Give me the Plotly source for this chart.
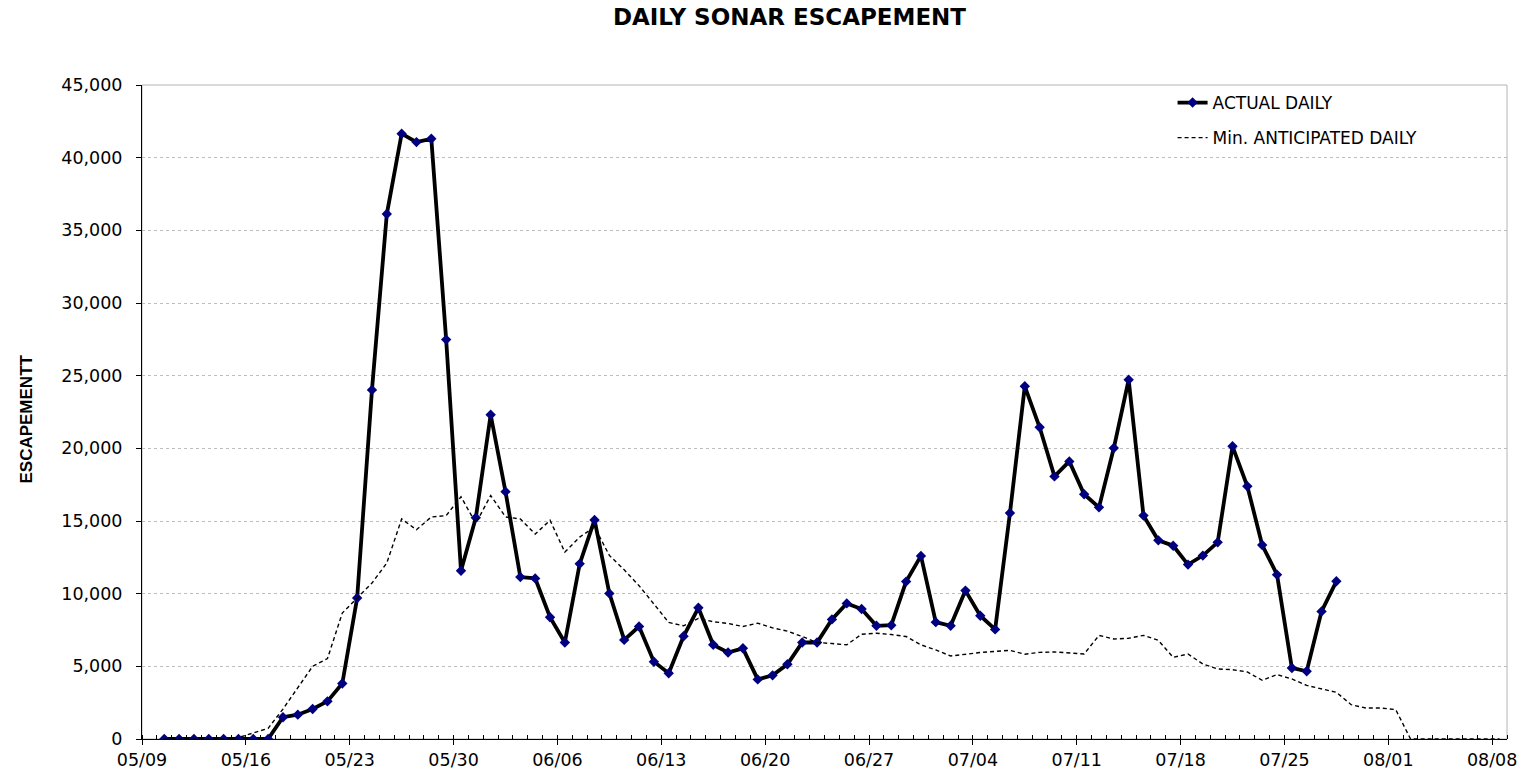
import pandas as pd
import plotly.graph_objects as go

# ---------------- data ----------------
START_DATE = "2009-05-10"          # first day of both series
AXIS_START = "2009-05-09"
AXIS_END = "2009-08-09"

ACTUAL_NAME = "ACTUAL DAILY"
ANTICIPATED_NAME = "Min. ANTICIPATED DAILY"

actual_daily = [
    # May 10 - May 31
    0, 0, 0, 0, 0, 0, 0, 0,
    1500, 1675, 2060, 2590, 3820, 9700, 24020, 36120, 41650, 41070, 41300, 27480, 11580, 15230,
    # June
    22310, 17020, 11140, 11050, 8380, 6640, 12050, 15070, 10020, 6820,
    7740, 5320, 4520, 7070, 9030, 6480, 5950, 6240, 4100, 4380,
    5140, 6640, 6640, 8230, 9330, 8940, 7790, 7830, 10830, 12600,
    # July 1 - July 28
    8040, 7790, 10210, 8480, 7540, 15550, 24270, 21450, 18070, 19100,
    16840, 15940, 20020, 24720, 15370, 13670, 13300, 12000, 12620, 13530,
    20140, 17390, 13350, 11310, 4890, 4660, 8780, 10850,
]

min_anticipated_daily = [
    # May 10 - May 31
    0, 0, 0, 0, 0, 100, 440, 735, 2060, 3530, 5000, 5530, 8670, 9700, 10730, 12110,
    15140, 14400, 15280, 15370, 16670, 14840,
    # June
    16750, 15280, 15140, 14100, 15050, 12860, 13890, 14590, 12630, 11640,
    10550, 9290, 8020, 7790, 8300, 8070, 7950, 7740, 7970, 7650,
    7420, 7050, 6640, 6570, 6480, 7210, 7280, 7190, 7050, 6480,
    # July
    6130, 5710, 5850, 5950, 6030, 6100, 5830, 5960, 5990, 5920,
    5850, 7130, 6880, 6930, 7130, 6790, 5620, 5850, 5160, 4820,
    4770, 4610, 4040, 4430, 4130, 3690, 3460, 3210, 2360, 2130, 2130,
    # Aug 1 - Aug 8
    2020, 0, 0, 0, 0, 0, 0, 0,
]

# ---------------- figure ----------------
# points sit in the middle of each day's slot (between tick marks)
half_day = pd.Timedelta(hours=12)
actual_dates = pd.date_range(START_DATE, periods=len(actual_daily), freq="D") + half_day
anticip_dates = pd.date_range(START_DATE, periods=len(min_anticipated_daily), freq="D") + half_day

fig = go.Figure()

fig.add_trace(go.Scatter(
    x=actual_dates, y=actual_daily, name=ACTUAL_NAME, mode="lines+markers",
    line=dict(color="black", width=3.8),
    marker=dict(symbol="diamond", size=8, color="#000080"),
    legendgroup="a",
))

fig.add_trace(go.Scatter(
    x=anticip_dates, y=min_anticipated_daily, name=ANTICIPATED_NAME, mode="lines",
    line=dict(color="black", width=1.4, dash="4px,3px"),
    legendgroup="b",
))

tick_font = dict(family="DejaVu Sans, Arial, sans-serif", size=17.5, color="black")

fig.update_layout(
    width=1536, height=776,
    paper_bgcolor="white", plot_bgcolor="white",
    margin=dict(l=142, r=29, t=85, b=37),
    title=dict(
        text="DAILY SONAR ESCAPEMENT",
        font=dict(family="DejaVu Sans, Arial, sans-serif", size=23, color="black", weight="bold"),
        x=0.514, xanchor="center", xref="container",
        y=1 - 17 / 776, yanchor="middle", yref="container",
    ),
    xaxis=dict(
        type="date",
        range=[AXIS_START, AXIS_END],
        tick0=AXIS_START, dtick=7 * 86400000,
        tickformat="%m/%d",
        ticks="outside", ticklen=5, tickcolor="black", tickwidth=1,
        showline=True, linecolor="black", linewidth=1,
        showgrid=False, zeroline=False, automargin=False,
        tickfont=tick_font,
        minor=dict(dtick=86400000, tick0=AXIS_START, ticks="inside", ticklen=4,
                   tickcolor="black", tickwidth=1, showgrid=False),
    ),
    yaxis=dict(
        range=[0, 45000], dtick=5000, tickformat=",d",
        ticks="outside", ticklen=5, tickcolor="black",
        showline=True, linecolor="black", linewidth=1,
        showgrid=True, gridcolor="#bdbdbd", gridwidth=1, griddash="dot",
        zeroline=False, automargin=False, ticklabelstandoff=10,
        tickfont=tick_font,
    ),
    legend=dict(
        x=0.755, y=1.0, xanchor="left", yanchor="top",
        bgcolor="rgba(0,0,0,0)",
        font=dict(family="DejaVu Sans, Arial, sans-serif", size=17, color="black"),
        traceorder="grouped", tracegroupgap=10,
    ),
    showlegend=True,
)

# grey plot-area border (top and right)
fig.add_shape(type="rect", xref="paper", yref="paper", x0=0, x1=1, y0=0, y1=1,
              line=dict(color="#b4b4b4", width=1), layer="below")

# y-axis title
fig.add_annotation(
    text="ESCAPEMENTT", textangle=-90,
    xref="paper", yref="paper", x=(27 - 142) / 1365, y=0.49,
    xanchor="center", yanchor="middle", showarrow=False,
    font=dict(family="Liberation Sans, Arial, sans-serif", size=17, color="black", weight="bold"),
)

fig.write_html(
    "out.html",
    config={"displayModeBar": False},
    post_script="document.body.style.margin='0';document.body.style.overflow='hidden';",
)
